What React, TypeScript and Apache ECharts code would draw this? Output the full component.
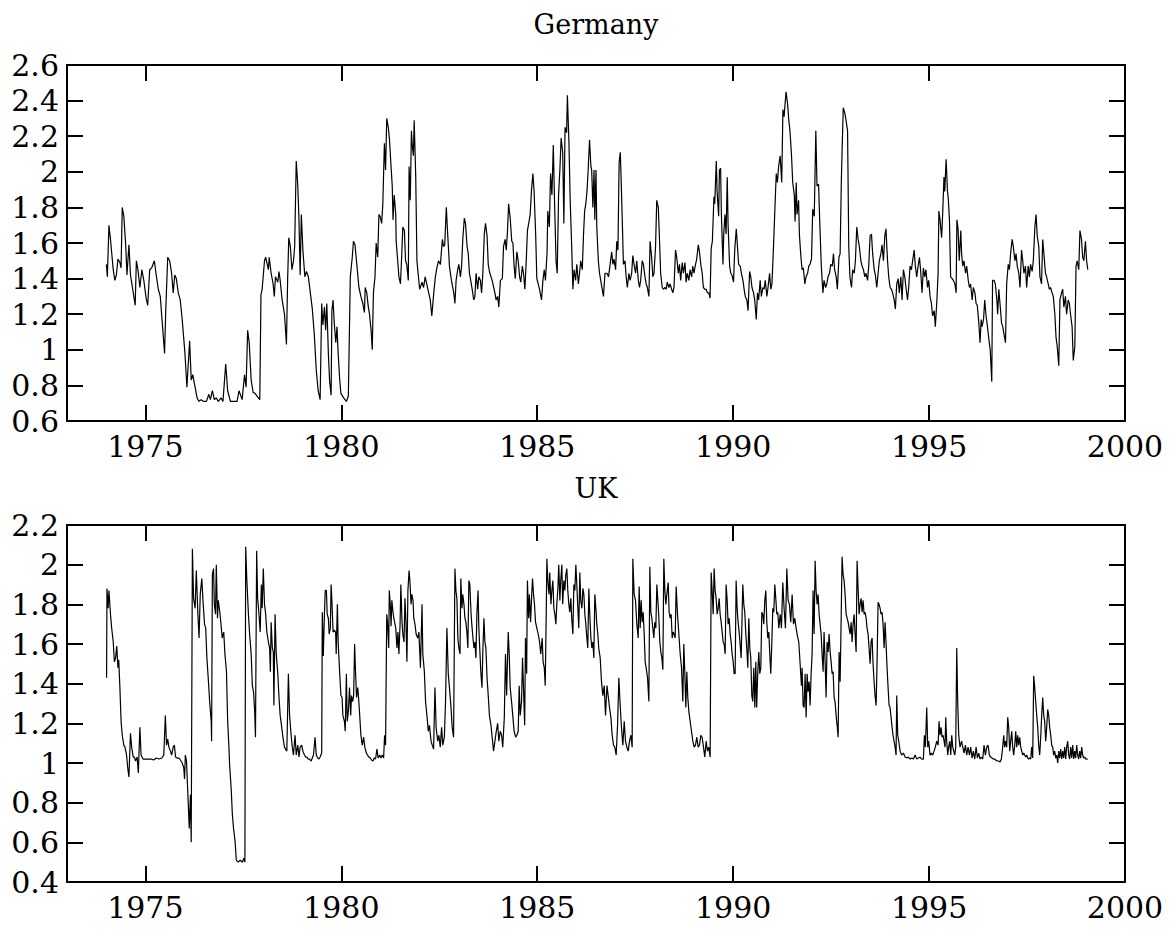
import React, { useEffect, useRef } from "react";
import * as echarts from "echarts";

const panelTitles = ["Germany", "UK"];
const yearTicks = [1975, 1980, 1985, 1990, 1995, 2000];
const germanyRange = { min: 0.6, max: 2.6 };
const ukRange = { min: 0.4, max: 2.2 };

// Germany: [decimal year, value]
const germanyData: [number, number][] = [
  [1974.005,1.48],[1974.03,1.41],[1974.07,1.70],[1974.11,1.62],[1974.13,1.57],[1974.18,1.45],[1974.22,1.39],[1974.26,1.42],
  [1974.30,1.51],[1974.35,1.49],[1974.38,1.46],[1974.41,1.80],[1974.45,1.75],[1974.50,1.58],[1974.53,1.42],[1974.58,1.59],
  [1974.62,1.42],[1974.67,1.35],[1974.74,1.25],[1974.77,1.50],[1974.81,1.45],[1974.86,1.35],[1974.91,1.45],[1974.96,1.39],
  [1975.02,1.29],[1975.06,1.25],[1975.11,1.45],[1975.16,1.46],[1975.23,1.50],[1975.27,1.43],[1975.33,1.34],[1975.38,1.30],
  [1975.49,0.98],[1975.52,1.22],[1975.57,1.52],[1975.62,1.50],[1975.67,1.43],[1975.71,1.32],[1975.75,1.42],[1975.79,1.40],
  [1975.84,1.32],[1975.89,1.28],[1975.94,1.17],[1976.01,0.98],[1976.06,0.79],[1976.13,1.05],[1976.17,0.83],[1976.21,0.86],
  [1976.26,0.80],[1976.32,0.73],[1976.37,0.71],[1976.42,0.72],[1976.49,0.71],[1976.56,0.71],[1976.62,0.75],[1976.66,0.72],
  [1976.71,0.77],[1976.76,0.72],[1976.81,0.73],[1976.86,0.71],[1976.93,0.73],[1976.98,0.71],[1977.05,0.92],[1977.10,0.77],
  [1977.17,0.71],[1977.25,0.71],[1977.34,0.71],[1977.39,0.77],[1977.47,0.72],[1977.53,0.86],[1977.57,0.79],[1977.61,1.11],
  [1977.65,1.04],[1977.70,0.83],[1977.75,0.76],[1977.80,0.755],[1977.85,0.74],[1977.92,0.72],[1977.95,1.31],[1977.98,1.34],
  [1978.04,1.50],[1978.07,1.52],[1978.10,1.49],[1978.14,1.45],[1978.16,1.52],[1978.21,1.43],[1978.26,1.37],[1978.29,1.30],
  [1978.32,1.41],[1978.38,1.38],[1978.41,1.44],[1978.44,1.39],[1978.49,1.28],[1978.55,1.20],[1978.60,1.03],[1978.63,1.39],
  [1978.66,1.63],[1978.70,1.58],[1978.74,1.45],[1978.78,1.50],[1978.81,1.58],[1978.85,2.06],[1978.89,1.92],[1978.92,1.73],
  [1978.95,1.42],[1978.98,1.76],[1979.02,1.56],[1979.07,1.41],[1979.11,1.44],[1979.16,1.41],[1979.21,1.32],[1979.26,1.23],
  [1979.31,1.09],[1979.36,0.89],[1979.41,0.77],[1979.46,0.72],[1979.50,1.26],[1979.53,1.14],[1979.57,1.24],[1979.60,1.11],
  [1979.63,1.26],[1979.67,0.98],[1979.70,0.83],[1979.74,0.745],[1979.76,1.22],[1979.79,1.28],[1979.82,1.15],[1979.86,1.04],
  [1979.89,1.13],[1979.92,0.98],[1979.96,0.83],[1979.99,0.755],[1980.06,0.73],[1980.13,0.71],[1980.18,0.74],[1980.23,1.41],
  [1980.28,1.52],[1980.31,1.61],[1980.35,1.59],[1980.40,1.47],[1980.45,1.35],[1980.50,1.30],[1980.55,1.26],[1980.59,1.21],
  [1980.61,1.35],[1980.65,1.32],[1980.69,1.24],[1980.72,1.20],[1980.76,1.11],[1980.79,1.00],[1980.82,1.32],[1980.86,1.41],
  [1980.89,1.60],[1980.93,1.52],[1980.96,1.76],[1980.99,1.75],[1981.03,1.71],[1981.06,1.82],[1981.10,2.16],[1981.13,2.01],
  [1981.16,2.30],[1981.20,2.25],[1981.23,2.18],[1981.27,2.03],[1981.30,1.92],[1981.32,1.73],[1981.35,1.87],[1981.39,1.76],
  [1981.40,1.61],[1981.44,1.50],[1981.47,1.41],[1981.51,1.37],[1981.54,1.52],[1981.57,1.69],[1981.61,1.67],[1981.64,1.50],
  [1981.67,1.48],[1981.71,1.39],[1981.73,2.03],[1981.76,1.84],[1981.79,2.23],[1981.81,2.15],[1981.84,2.09],[1981.86,2.29],
  [1981.90,1.97],[1981.93,1.50],[1981.96,1.43],[1982.00,1.34],[1982.06,1.38],[1982.10,1.35],[1982.14,1.41],[1982.19,1.36],
  [1982.23,1.32],[1982.27,1.28],[1982.31,1.19],[1982.36,1.32],[1982.40,1.41],[1982.44,1.46],[1982.48,1.50],[1982.53,1.48],
  [1982.55,1.54],[1982.58,1.62],[1982.61,1.58],[1982.64,1.59],[1982.68,1.80],[1982.71,1.67],[1982.76,1.47],[1982.81,1.39],
  [1982.87,1.32],[1982.90,1.26],[1982.93,1.39],[1982.97,1.45],[1983.00,1.48],[1983.04,1.41],[1983.07,1.47],[1983.10,1.62],
  [1983.14,1.74],[1983.17,1.71],[1983.21,1.58],[1983.24,1.54],[1983.27,1.43],[1983.31,1.38],[1983.34,1.34],[1983.38,1.28],
  [1983.41,1.30],[1983.44,1.43],[1983.48,1.34],[1983.51,1.41],[1983.55,1.39],[1983.58,1.32],[1983.61,1.42],[1983.65,1.65],
  [1983.68,1.71],[1983.72,1.64],[1983.75,1.48],[1983.78,1.44],[1983.82,1.41],[1983.85,1.39],[1983.89,1.35],[1983.92,1.32],
  [1983.95,1.28],[1983.99,1.30],[1984.02,1.24],[1984.06,1.39],[1984.11,1.40],[1984.14,1.58],[1984.18,1.62],[1984.21,1.56],
  [1984.24,1.66],[1984.27,1.82],[1984.31,1.74],[1984.35,1.61],[1984.38,1.60],[1984.41,1.47],[1984.44,1.40],[1984.48,1.55],
  [1984.515,1.50],[1984.55,1.41],[1984.58,1.38],[1984.62,1.47],[1984.65,1.43],[1984.685,1.34],[1984.72,1.50],[1984.75,1.67],
  [1984.79,1.72],[1984.82,1.76],[1984.855,1.90],[1984.89,1.99],[1984.92,1.89],[1984.96,1.65],[1984.99,1.40],[1985.025,1.37],
  [1985.06,1.34],[1985.11,1.28],[1985.145,1.39],[1985.18,1.45],[1985.21,1.39],[1985.25,1.54],[1985.27,1.78],[1985.31,1.69],
  [1985.34,1.99],[1985.375,1.87],[1985.41,2.15],[1985.44,1.85],[1985.48,1.50],[1985.51,1.43],[1985.545,1.87],[1985.58,2.02],
  [1985.61,2.19],[1985.65,2.11],[1985.68,1.71],[1985.71,2.25],[1985.75,2.22],[1985.77,2.43],[1985.81,2.16],[1985.84,1.85],
  [1985.88,1.58],[1985.91,1.34],[1985.94,1.45],[1985.98,1.39],[1986.01,1.48],[1986.05,1.37],[1986.08,1.43],[1986.11,1.50],
  [1986.15,1.45],[1986.18,1.64],[1986.21,1.78],[1986.24,1.82],[1986.27,1.89],[1986.30,2.01],[1986.335,2.18],[1986.37,2.03],
  [1986.39,2.01],[1986.42,1.80],[1986.45,2.01],[1986.47,1.73],[1986.50,2.01],[1986.52,1.69],[1986.56,1.50],[1986.59,1.43],
  [1986.62,1.39],[1986.66,1.34],[1986.69,1.30],[1986.73,1.43],[1986.78,1.43],[1986.82,1.41],[1986.86,1.48],[1986.90,1.55],
  [1986.93,1.48],[1986.96,1.51],[1987.00,1.45],[1987.03,1.61],[1987.06,1.56],[1987.09,2.05],[1987.12,2.11],[1987.14,1.97],
  [1987.17,1.73],[1987.20,1.48],[1987.24,1.50],[1987.27,1.41],[1987.30,1.35],[1987.34,1.43],[1987.37,1.39],[1987.41,1.43],
  [1987.44,1.53],[1987.47,1.48],[1987.51,1.43],[1987.54,1.50],[1987.58,1.39],[1987.61,1.35],[1987.64,1.39],[1987.68,1.50],
  [1987.71,1.48],[1987.75,1.41],[1987.78,1.37],[1987.81,1.35],[1987.85,1.30],[1987.88,1.61],[1987.92,1.52],[1987.95,1.41],
  [1987.98,1.43],[1988.02,1.58],[1988.05,1.84],[1988.09,1.80],[1988.12,1.62],[1988.15,1.43],[1988.19,1.35],[1988.22,1.34],
  [1988.26,1.35],[1988.29,1.34],[1988.32,1.38],[1988.36,1.35],[1988.39,1.37],[1988.43,1.34],[1988.46,1.32],[1988.49,1.35],
  [1988.53,1.56],[1988.56,1.52],[1988.60,1.43],[1988.63,1.48],[1988.66,1.39],[1988.70,1.49],[1988.73,1.43],[1988.77,1.49],
  [1988.80,1.38],[1988.83,1.43],[1988.87,1.39],[1988.90,1.45],[1988.94,1.41],[1988.97,1.47],[1989.00,1.43],[1989.04,1.48],
  [1989.07,1.51],[1989.11,1.59],[1989.14,1.55],[1989.18,1.47],[1989.21,1.43],[1989.24,1.35],[1989.28,1.34],[1989.31,1.34],
  [1989.345,1.32],[1989.38,1.32],[1989.41,1.29],[1989.44,1.57],[1989.47,1.61],[1989.51,1.86],[1989.53,1.82],[1989.57,2.06],
  [1989.59,1.89],[1989.63,1.75],[1989.65,2.01],[1989.68,2.02],[1989.70,1.76],[1989.74,1.48],[1989.76,1.65],[1989.79,1.76],
  [1989.82,1.65],[1989.85,1.97],[1989.87,1.71],[1989.91,1.47],[1989.94,1.43],[1989.97,1.42],[1990.01,1.38],[1990.04,1.56],
  [1990.08,1.68],[1990.11,1.58],[1990.14,1.48],[1990.18,1.47],[1990.21,1.43],[1990.25,1.39],[1990.28,1.34],[1990.31,1.30],
  [1990.35,1.28],[1990.38,1.22],[1990.42,1.44],[1990.45,1.41],[1990.48,1.35],[1990.52,1.32],[1990.55,1.28],[1990.59,1.17],
  [1990.62,1.32],[1990.65,1.28],[1990.69,1.39],[1990.72,1.30],[1990.76,1.35],[1990.79,1.34],[1990.82,1.39],[1990.86,1.30],
  [1990.89,1.35],[1990.93,1.43],[1990.96,1.34],[1990.99,1.37],[1991.03,1.58],[1991.06,1.76],[1991.10,1.99],[1991.13,1.94],
  [1991.16,2.03],[1991.20,2.09],[1991.24,1.94],[1991.27,2.35],[1991.30,2.31],[1991.35,2.45],[1991.39,2.38],[1991.42,2.29],
  [1991.45,2.23],[1991.49,2.09],[1991.52,1.94],[1991.56,1.87],[1991.58,1.72],[1991.61,1.94],[1991.63,1.76],[1991.67,1.84],
  [1991.69,1.65],[1991.73,1.52],[1991.76,1.45],[1991.79,1.46],[1991.83,1.37],[1991.86,1.41],[1991.90,1.43],[1991.93,1.47],
  [1991.96,1.48],[1992.00,1.51],[1992.03,1.79],[1992.07,1.75],[1992.11,2.23],[1992.14,1.92],[1992.18,1.93],[1992.21,1.72],
  [1992.25,1.47],[1992.29,1.32],[1992.32,1.39],[1992.36,1.35],[1992.39,1.37],[1992.42,1.41],[1992.46,1.43],[1992.49,1.48],
  [1992.53,1.47],[1992.56,1.54],[1992.59,1.45],[1992.63,1.41],[1992.66,1.34],[1992.70,1.52],[1992.73,1.54],[1992.76,1.94],
  [1992.79,2.20],[1992.81,2.36],[1992.85,2.33],[1992.88,2.29],[1992.92,2.23],[1992.95,1.58],[1992.98,1.41],[1993.02,1.35],
  [1993.05,1.45],[1993.09,1.43],[1993.12,1.50],[1993.155,1.69],[1993.19,1.62],[1993.22,1.58],[1993.26,1.50],[1993.29,1.47],
  [1993.325,1.45],[1993.36,1.41],[1993.39,1.43],[1993.43,1.39],[1993.46,1.47],[1993.495,1.64],[1993.53,1.65],[1993.56,1.54],
  [1993.60,1.45],[1993.63,1.42],[1993.665,1.35],[1993.70,1.43],[1993.73,1.50],[1993.77,1.54],[1993.80,1.59],[1993.835,1.50],
  [1993.87,1.64],[1993.90,1.68],[1993.94,1.50],[1993.97,1.41],[1994.005,1.35],[1994.04,1.34],[1994.07,1.32],[1994.11,1.28],
  [1994.14,1.23],[1994.175,1.37],[1994.21,1.40],[1994.24,1.32],[1994.28,1.41],[1994.31,1.28],[1994.345,1.45],[1994.38,1.41],
  [1994.41,1.35],[1994.45,1.28],[1994.48,1.35],[1994.515,1.47],[1994.55,1.45],[1994.58,1.50],[1994.62,1.56],[1994.65,1.47],
  [1994.685,1.41],[1994.72,1.47],[1994.755,1.52],[1994.79,1.43],[1994.82,1.32],[1994.855,1.46],[1994.89,1.41],[1994.92,1.45],
  [1994.96,1.35],[1994.99,1.39],[1995.025,1.30],[1995.06,1.26],[1995.09,1.19],[1995.13,1.22],[1995.16,1.13],[1995.20,1.28],
  [1995.23,1.43],[1995.25,1.78],[1995.28,1.73],[1995.32,1.63],[1995.35,1.78],[1995.38,1.97],[1995.40,1.89],[1995.435,2.07],
  [1995.47,1.89],[1995.49,1.85],[1995.52,1.73],[1995.55,1.41],[1995.59,1.40],[1995.62,1.39],[1995.66,1.37],[1995.69,1.32],
  [1995.71,1.73],[1995.74,1.68],[1995.77,1.50],[1995.81,1.67],[1995.83,1.54],[1995.86,1.47],[1995.89,1.50],[1995.93,1.43],
  [1995.96,1.47],[1996.00,1.39],[1996.03,1.35],[1996.06,1.37],[1996.10,1.28],[1996.13,1.35],[1996.17,1.32],[1996.20,1.26],
  [1996.23,1.25],[1996.27,1.15],[1996.30,1.04],[1996.33,1.17],[1996.35,1.13],[1996.39,1.17],[1996.42,1.28],[1996.45,1.20],
  [1996.49,1.13],[1996.52,1.07],[1996.56,1.00],[1996.60,0.82],[1996.62,1.39],[1996.66,1.39],[1996.69,1.37],[1996.73,1.28],
  [1996.75,1.20],[1996.78,1.34],[1996.81,1.26],[1996.85,1.15],[1996.88,1.13],[1996.91,1.09],[1996.95,1.04],[1996.98,1.37],
  [1997.02,1.48],[1997.05,1.45],[1997.08,1.54],[1997.12,1.62],[1997.15,1.58],[1997.19,1.50],[1997.22,1.54],[1997.25,1.47],
  [1997.29,1.43],[1997.32,1.35],[1997.36,1.56],[1997.39,1.50],[1997.42,1.43],[1997.46,1.47],[1997.49,1.35],[1997.53,1.47],
  [1997.56,1.41],[1997.59,1.48],[1997.63,1.44],[1997.66,1.50],[1997.70,1.69],[1997.73,1.76],[1997.76,1.64],[1997.80,1.58],
  [1997.83,1.41],[1997.87,1.37],[1997.90,1.62],[1997.93,1.54],[1997.97,1.43],[1998.00,1.41],[1998.04,1.37],[1998.07,1.34],
  [1998.10,1.35],[1998.14,1.32],[1998.17,1.30],[1998.21,1.20],[1998.24,1.07],[1998.27,1.02],[1998.31,0.91],[1998.34,1.28],
  [1998.38,1.32],[1998.41,1.34],[1998.44,1.24],[1998.48,1.30],[1998.51,1.20],[1998.55,1.28],[1998.58,1.26],[1998.61,1.20],
  [1998.65,1.13],[1998.68,0.94],[1998.72,1.02],[1998.75,1.47],[1998.78,1.50],[1998.82,1.45],[1998.85,1.67],[1998.89,1.62],
  [1998.92,1.52],[1998.95,1.50],[1998.99,1.61],[1999.02,1.50],[1999.05,1.45]
];

// UK: [decimal year, value]
const ukData: [number, number][] = [
  [1974.01,1.43],[1974.02,1.88],[1974.05,1.78],[1974.07,1.87],[1974.11,1.75],[1974.14,1.68],[1974.18,1.61],[1974.21,1.51],
  [1974.24,1.53],[1974.27,1.59],[1974.30,1.48],[1974.32,1.52],[1974.35,1.38],[1974.38,1.21],[1974.41,1.14],[1974.45,1.09],
  [1974.48,1.08],[1974.52,1.04],[1974.55,0.975],[1974.58,0.93],[1974.62,1.15],[1974.65,1.08],[1974.69,1.03],[1974.72,1.03],
  [1974.75,1.01],[1974.79,1.03],[1974.82,0.95],[1974.86,1.18],[1974.89,1.04],[1974.94,1.02],[1975.01,1.02],[1975.08,1.02],
  [1975.15,1.02],[1975.21,1.015],[1975.28,1.025],[1975.35,1.02],[1975.42,1.025],[1975.47,1.04],[1975.51,1.24],[1975.54,1.09],
  [1975.57,1.12],[1975.60,1.08],[1975.64,1.06],[1975.67,1.04],[1975.71,1.08],[1975.74,1.09],[1975.77,1.03],[1975.81,1.025],
  [1975.86,1.025],[1975.91,1.01],[1975.94,1.00],[1975.98,0.975],[1976.00,0.92],[1976.02,1.04],[1976.05,1.01],[1976.07,0.91],
  [1976.10,0.77],[1976.12,0.67],[1976.15,0.84],[1976.17,0.60],[1976.20,2.08],[1976.23,1.83],[1976.27,1.78],[1976.30,1.97],
  [1976.34,1.75],[1976.37,1.63],[1976.40,1.85],[1976.44,1.93],[1976.47,1.82],[1976.51,1.70],[1976.54,1.68],[1976.57,1.53],
  [1976.61,1.41],[1976.64,1.31],[1976.68,1.21],[1976.69,1.11],[1976.71,1.95],[1976.74,1.98],[1976.76,1.80],[1976.79,1.75],
  [1976.81,2.00],[1976.84,1.73],[1976.86,1.82],[1976.90,1.76],[1976.93,1.70],[1976.96,1.63],[1977.00,1.66],[1977.03,1.55],
  [1977.07,1.46],[1977.10,1.21],[1977.13,1.09],[1977.15,0.99],[1977.19,0.87],[1977.22,0.74],[1977.25,0.67],[1977.29,0.605],
  [1977.32,0.51],[1977.37,0.50],[1977.42,0.51],[1977.48,0.50],[1977.51,0.52],[1977.54,0.50],[1977.56,2.09],[1977.59,1.92],
  [1977.63,1.75],[1977.66,1.65],[1977.70,1.55],[1977.73,1.39],[1977.76,1.36],[1977.79,1.26],[1977.81,1.13],[1977.84,2.07],
  [1977.865,1.83],[1977.90,1.75],[1977.93,1.66],[1977.96,1.90],[1977.98,1.78],[1978.01,1.98],[1978.04,1.80],[1978.07,1.75],
  [1978.10,1.66],[1978.14,1.61],[1978.17,1.58],[1978.19,1.46],[1978.21,1.71],[1978.24,1.58],[1978.265,1.56],[1978.28,1.29],
  [1978.31,1.75],[1978.34,1.55],[1978.38,1.45],[1978.41,1.33],[1978.44,1.24],[1978.48,1.18],[1978.51,1.13],[1978.55,1.08],
  [1978.58,1.07],[1978.61,1.06],[1978.65,1.45],[1978.68,1.24],[1978.72,1.14],[1978.75,1.08],[1978.78,1.04],[1978.82,1.14],
  [1978.85,1.04],[1978.89,1.09],[1978.92,1.03],[1978.95,1.08],[1978.99,1.09],[1979.02,1.06],[1979.06,1.04],[1979.09,1.03],
  [1979.12,1.03],[1979.16,1.02],[1979.19,1.02],[1979.23,1.01],[1979.26,1.025],[1979.29,1.04],[1979.33,1.13],[1979.36,1.04],
  [1979.40,1.025],[1979.43,1.02],[1979.46,1.03],[1979.50,1.05],[1979.515,1.76],[1979.54,1.54],[1979.57,1.75],[1979.59,1.87],
  [1979.62,1.87],[1979.64,1.75],[1979.67,1.73],[1979.69,1.65],[1979.72,1.68],[1979.74,1.90],[1979.76,1.82],[1979.79,1.66],
  [1979.82,1.67],[1979.855,1.66],[1979.87,1.55],[1979.90,1.80],[1979.92,1.61],[1979.96,1.45],[1979.99,1.34],[1980.02,1.33],
  [1980.04,1.24],[1980.08,1.21],[1980.10,1.16],[1980.13,1.45],[1980.15,1.21],[1980.18,1.26],[1980.21,1.38],[1980.24,1.24],
  [1980.26,1.34],[1980.29,1.31],[1980.315,1.34],[1980.34,1.60],[1980.365,1.45],[1980.39,1.33],[1980.42,1.38],[1980.44,1.33],
  [1980.47,1.24],[1980.50,1.14],[1980.535,1.09],[1980.57,1.13],[1980.60,1.08],[1980.64,1.05],[1980.67,1.04],[1980.705,1.03],
  [1980.74,1.025],[1980.77,1.015],[1980.81,1.01],[1980.84,1.025],[1980.875,1.02],[1980.91,1.07],[1980.94,1.025],[1980.98,1.04],
  [1981.01,1.025],[1981.045,1.04],[1981.08,1.025],[1981.105,1.14],[1981.13,1.09],[1981.16,1.75],[1981.18,1.71],[1981.21,1.58],
  [1981.225,1.87],[1981.25,1.80],[1981.27,1.69],[1981.29,1.82],[1981.32,1.76],[1981.34,1.73],[1981.37,1.70],[1981.39,1.68],
  [1981.42,1.58],[1981.445,1.66],[1981.47,1.55],[1981.50,1.70],[1981.52,1.90],[1981.55,1.71],[1981.57,1.65],[1981.60,1.61],
  [1981.625,1.83],[1981.65,1.71],[1981.675,1.51],[1981.70,1.87],[1981.73,1.97],[1981.75,1.92],[1981.78,1.80],[1981.80,1.85],
  [1981.83,1.82],[1981.85,1.73],[1981.88,1.70],[1981.91,1.65],[1981.95,1.63],[1981.98,1.66],[1982.02,1.48],[1982.06,1.80],
  [1982.08,1.55],[1982.12,1.46],[1982.15,1.31],[1982.19,1.23],[1982.22,1.16],[1982.25,1.19],[1982.29,1.11],[1982.32,1.09],
  [1982.355,1.07],[1982.39,1.38],[1982.42,1.18],[1982.46,1.11],[1982.49,1.14],[1982.525,1.08],[1982.56,1.18],[1982.59,1.09],
  [1982.63,1.13],[1982.66,1.31],[1982.695,1.68],[1982.73,1.45],[1982.76,1.38],[1982.80,1.28],[1982.83,1.18],[1982.865,1.13],
  [1982.90,1.98],[1982.925,1.87],[1982.95,1.83],[1982.975,1.63],[1983.00,1.58],[1983.03,1.55],[1983.05,1.93],[1983.08,1.78],
  [1983.10,1.85],[1983.13,1.80],[1983.155,1.73],[1983.18,1.71],[1983.205,1.66],[1983.23,1.58],[1983.256,1.92],[1983.28,1.90],
  [1983.31,1.76],[1983.33,1.70],[1983.36,1.63],[1983.385,1.58],[1983.41,1.61],[1983.435,1.53],[1983.46,1.75],[1983.49,1.87],
  [1983.51,1.68],[1983.54,1.55],[1983.56,1.46],[1983.59,1.38],[1983.61,1.55],[1983.64,1.73],[1983.665,1.61],[1983.69,1.58],
  [1983.72,1.43],[1983.75,1.34],[1983.78,1.24],[1983.82,1.19],[1983.85,1.13],[1983.885,1.06],[1983.92,1.11],[1983.955,1.16],
  [1983.99,1.20],[1984.02,1.11],[1984.056,1.16],[1984.09,1.14],[1984.12,1.08],[1984.16,1.23],[1984.19,1.55],[1984.22,1.34],
  [1984.24,1.51],[1984.26,1.66],[1984.285,1.55],[1984.31,1.38],[1984.345,1.31],[1984.38,1.23],[1984.41,1.16],[1984.45,1.13],
  [1984.48,1.14],[1984.515,1.16],[1984.54,1.39],[1984.566,1.24],[1984.60,1.31],[1984.625,1.53],[1984.65,1.38],[1984.68,1.19],
  [1984.70,1.63],[1984.73,1.45],[1984.75,1.92],[1984.78,1.73],[1984.80,1.85],[1984.83,1.71],[1984.855,1.83],[1984.88,1.93],
  [1984.906,1.85],[1984.93,1.80],[1984.957,1.71],[1984.99,1.68],[1985.025,1.65],[1985.06,1.61],[1985.09,1.55],[1985.127,1.63],
  [1985.15,1.51],[1985.18,1.48],[1985.204,1.39],[1985.23,1.75],[1985.246,2.03],[1985.27,1.92],[1985.30,1.85],[1985.32,1.96],
  [1985.35,1.80],[1985.374,1.87],[1985.40,1.92],[1985.425,1.78],[1985.45,1.75],[1985.476,1.70],[1985.50,1.80],[1985.527,1.88],
  [1985.55,2.00],[1985.578,1.82],[1985.60,1.92],[1985.629,2.00],[1985.65,1.80],[1985.68,1.92],[1985.705,1.87],[1985.73,1.95],
  [1985.756,1.98],[1985.78,1.87],[1985.807,1.80],[1985.83,1.76],[1985.858,1.83],[1985.88,1.73],[1985.91,1.65],[1985.935,1.90],
  [1985.96,1.87],[1985.986,2.00],[1986.01,1.90],[1986.037,1.78],[1986.06,1.68],[1986.088,1.96],[1986.11,1.82],[1986.14,1.78],
  [1986.165,1.88],[1986.19,1.85],[1986.216,1.75],[1986.24,1.70],[1986.267,1.63],[1986.29,1.58],[1986.318,1.88],[1986.34,1.75],
  [1986.37,1.63],[1986.394,1.58],[1986.42,1.61],[1986.445,1.53],[1986.47,1.85],[1986.496,1.78],[1986.52,1.70],[1986.547,1.65],
  [1986.57,1.58],[1986.607,1.53],[1986.64,1.41],[1986.675,1.34],[1986.71,1.39],[1986.743,1.24],[1986.78,1.39],[1986.81,1.34],
  [1986.845,1.28],[1986.88,1.23],[1986.913,1.14],[1986.947,1.09],[1986.98,1.08],[1987.015,1.04],[1987.05,1.19],[1987.083,1.43],
  [1987.117,1.29],[1987.15,1.18],[1987.185,1.09],[1987.22,1.21],[1987.253,1.11],[1987.287,1.08],[1987.32,1.06],[1987.355,1.11],
  [1987.39,1.14],[1987.423,1.08],[1987.44,2.03],[1987.474,1.85],[1987.508,1.82],[1987.542,1.70],[1987.576,1.63],[1987.602,1.89],
  [1987.627,1.68],[1987.653,1.82],[1987.678,1.71],[1987.704,1.76],[1987.73,1.65],[1987.755,1.51],[1987.78,1.48],[1987.815,1.43],
  [1987.849,1.31],[1987.874,1.99],[1987.90,1.76],[1987.925,1.73],[1987.95,1.68],[1987.976,1.63],[1988.00,1.71],[1988.027,1.68],
  [1988.053,1.90],[1988.078,1.82],[1988.10,1.75],[1988.129,1.61],[1988.155,1.56],[1988.18,1.53],[1988.206,1.47],[1988.231,2.03],
  [1988.257,1.87],[1988.282,1.80],[1988.308,1.85],[1988.342,1.91],[1988.367,1.76],[1988.393,1.73],[1988.418,1.75],[1988.444,1.63],
  [1988.469,1.66],[1988.495,1.65],[1988.52,1.63],[1988.546,1.89],[1988.58,1.75],[1988.614,1.65],[1988.648,1.55],[1988.682,1.48],
  [1988.716,1.31],[1988.741,1.60],[1988.767,1.45],[1988.792,1.28],[1988.818,1.46],[1988.843,1.33],[1988.869,1.26],[1988.903,1.21],
  [1988.937,1.16],[1988.971,1.11],[1989.005,1.08],[1989.039,1.09],[1989.073,1.13],[1989.107,1.08],[1989.141,1.09],[1989.175,1.14],
  [1989.209,1.13],[1989.243,1.08],[1989.277,1.03],[1989.311,1.11],[1989.345,1.06],[1989.379,1.08],[1989.413,1.03],[1989.439,1.96],
  [1989.464,1.87],[1989.49,1.75],[1989.515,1.98],[1989.54,1.87],[1989.566,1.83],[1989.592,1.75],[1989.617,1.78],[1989.643,1.83],
  [1989.668,1.75],[1989.694,1.71],[1989.719,1.66],[1989.745,1.61],[1989.77,1.60],[1989.796,1.55],[1989.821,1.90],[1989.847,1.82],
  [1989.872,1.70],[1989.898,1.73],[1989.923,1.65],[1989.949,1.61],[1989.974,1.55],[1990.00,1.51],[1990.025,1.45],[1990.051,1.45],
  [1990.076,1.92],[1990.102,1.78],[1990.127,1.71],[1990.153,1.66],[1990.178,1.60],[1990.204,1.53],[1990.229,1.75],[1990.246,1.90],
  [1990.272,1.80],[1990.297,1.76],[1990.323,1.65],[1990.348,1.58],[1990.374,1.48],[1990.40,1.73],[1990.425,1.58],[1990.45,1.53],
  [1990.476,1.34],[1990.50,1.31],[1990.527,1.48],[1990.553,1.28],[1990.578,1.51],[1990.60,1.28],[1990.629,1.46],[1990.655,1.56],
  [1990.68,1.45],[1990.706,1.48],[1990.731,1.76],[1990.757,1.75],[1990.782,1.70],[1990.808,1.82],[1990.833,1.87],[1990.859,1.71],
  [1990.884,1.63],[1990.91,1.66],[1990.935,1.55],[1990.96,1.45],[1990.986,1.60],[1991.012,1.78],[1991.037,1.76],[1991.063,1.90],
  [1991.088,1.83],[1991.114,1.75],[1991.139,1.76],[1991.165,1.68],[1991.20,1.75],[1991.233,1.68],[1991.267,1.91],[1991.30,1.78],
  [1991.335,1.68],[1991.37,1.98],[1991.403,1.82],[1991.437,1.80],[1991.47,1.71],[1991.505,1.85],[1991.54,1.70],[1991.573,1.73],
  [1991.607,1.68],[1991.641,1.64],[1991.675,1.61],[1991.709,1.50],[1991.743,1.39],[1991.76,1.48],[1991.786,1.29],[1991.81,1.28],
  [1991.837,1.45],[1991.862,1.23],[1991.888,1.45],[1991.913,1.36],[1991.939,1.41],[1991.964,1.29],[1991.99,1.45],[1992.015,1.55],
  [1992.04,1.87],[1992.066,1.65],[1992.092,2.02],[1992.117,1.87],[1992.143,1.80],[1992.168,1.85],[1992.194,1.75],[1992.219,1.70],
  [1992.245,1.65],[1992.27,1.55],[1992.296,1.46],[1992.32,1.66],[1992.347,1.51],[1992.372,1.33],[1992.398,1.61],[1992.424,1.56],
  [1992.449,1.65],[1992.475,1.56],[1992.50,1.51],[1992.526,1.45],[1992.551,1.46],[1992.577,1.33],[1992.60,1.31],[1992.628,1.24],
  [1992.653,1.19],[1992.679,1.13],[1992.704,1.56],[1992.73,1.41],[1992.755,1.71],[1992.78,2.04],[1992.806,1.95],[1992.832,1.92],
  [1992.857,1.85],[1992.883,1.75],[1992.908,1.73],[1992.934,1.71],[1992.959,1.68],[1992.985,1.65],[1993.01,1.71],[1993.036,1.61],
  [1993.061,1.70],[1993.087,1.75],[1993.112,1.65],[1993.138,1.56],[1993.163,2.02],[1993.189,1.88],[1993.214,1.75],[1993.24,1.80],
  [1993.265,1.83],[1993.291,1.76],[1993.316,1.82],[1993.342,1.75],[1993.367,1.76],[1993.393,1.73],[1993.418,1.68],[1993.444,1.65],
  [1993.469,1.58],[1993.495,1.50],[1993.52,1.61],[1993.546,1.63],[1993.571,1.50],[1993.597,1.41],[1993.622,1.34],[1993.648,1.29],
  [1993.673,1.51],[1993.699,1.81],[1993.724,1.80],[1993.75,1.78],[1993.775,1.75],[1993.801,1.76],[1993.826,1.70],[1993.852,1.58],
  [1993.877,1.71],[1993.903,1.60],[1993.928,1.48],[1993.954,1.38],[1993.98,1.29],[1994.005,1.28],[1994.03,1.23],[1994.056,1.18],
  [1994.08,1.14],[1994.107,1.11],[1994.133,1.08],[1994.158,1.04],[1994.175,1.34],[1994.20,1.14],[1994.226,1.11],[1994.26,1.06],
  [1994.30,1.04],[1994.345,1.05],[1994.388,1.03],[1994.43,1.025],[1994.473,1.03],[1994.515,1.02],[1994.558,1.025],[1994.60,1.02],
  [1994.643,1.04],[1994.685,1.02],[1994.728,1.025],[1994.77,1.03],[1994.813,1.02],[1994.855,1.02],[1994.88,1.14],[1994.906,1.08],
  [1994.94,1.28],[1994.966,1.08],[1994.99,1.11],[1995.025,1.04],[1995.06,1.05],[1995.093,1.04],[1995.127,1.06],[1995.16,1.08],
  [1995.195,1.11],[1995.23,1.09],[1995.255,1.21],[1995.28,1.14],[1995.306,1.18],[1995.332,1.13],[1995.357,1.14],[1995.383,1.11],
  [1995.408,1.08],[1995.425,1.23],[1995.45,1.11],[1995.476,1.04],[1995.50,1.08],[1995.527,1.11],[1995.553,1.04],[1995.578,1.14],
  [1995.604,1.08],[1995.63,1.06],[1995.655,1.04],[1995.68,1.08],[1995.706,1.58],[1995.73,1.31],[1995.757,1.14],[1995.79,1.08],
  [1995.83,1.11],[1995.86,1.08],[1995.893,1.05],[1995.927,1.09],[1995.961,1.04],[1995.995,1.08],[1996.03,1.04],[1996.063,1.08],
  [1996.097,1.025],[1996.131,1.06],[1996.165,1.02],[1996.20,1.08],[1996.233,1.025],[1996.267,1.05],[1996.301,1.02],[1996.335,1.03],
  [1996.369,1.02],[1996.403,1.09],[1996.437,1.04],[1996.471,1.08],[1996.505,1.09],[1996.539,1.04],[1996.573,1.03],[1996.607,1.025],
  [1996.641,1.02],[1996.675,1.02],[1996.709,1.013],[1996.743,1.01],[1996.777,1.01],[1996.811,1.005],[1996.845,1.02],[1996.879,1.08],
  [1996.905,1.14],[1996.93,1.08],[1996.956,1.11],[1996.981,1.08],[1997.007,1.23],[1997.032,1.18],[1997.058,1.06],[1997.083,1.11],
  [1997.109,1.16],[1997.134,1.08],[1997.16,1.04],[1997.186,1.09],[1997.211,1.16],[1997.237,1.08],[1997.262,1.14],[1997.288,1.09],
  [1997.313,1.13],[1997.339,1.08],[1997.364,1.06],[1997.39,1.04],[1997.415,1.05],[1997.441,1.04],[1997.466,1.03],[1997.492,1.04],
  [1997.517,1.025],[1997.543,1.02],[1997.568,1.025],[1997.594,1.02],[1997.619,1.08],[1997.645,1.025],[1997.67,1.44],[1997.696,1.38],
  [1997.721,1.31],[1997.747,1.24],[1997.772,1.18],[1997.798,1.09],[1997.823,1.04],[1997.849,1.13],[1997.874,1.24],[1997.90,1.33],
  [1997.925,1.24],[1997.951,1.21],[1997.976,1.11],[1998.002,1.18],[1998.027,1.27],[1998.053,1.24],[1998.078,1.18],[1998.104,1.14],
  [1998.13,1.09],[1998.155,1.08],[1998.18,1.04],[1998.206,1.06],[1998.232,1.025],[1998.257,1.04],[1998.283,1.00],[1998.308,1.06],
  [1998.334,1.025],[1998.359,1.07],[1998.385,1.02],[1998.41,1.06],[1998.436,1.025],[1998.461,1.08],[1998.487,1.02],[1998.512,1.08],
  [1998.538,1.11],[1998.563,1.04],[1998.589,1.02],[1998.614,1.08],[1998.64,1.025],[1998.665,1.09],[1998.691,1.02],[1998.716,1.06],
  [1998.742,1.025],[1998.767,1.09],[1998.793,1.04],[1998.818,1.02],[1998.844,1.06],[1998.869,1.025],[1998.895,1.08],[1998.92,1.04],
  [1998.946,1.025],[1998.971,1.03],[1998.997,1.02],[1999.022,1.02],[1999.048,1.02]
];

const FONT = "DejaVu Serif";

export default function App() {
  const ref = useRef<HTMLDivElement>(null);

  useEffect(() => {
    document.body.style.margin = "0";
    const chart = echarts.init(ref.current as HTMLDivElement, null, { renderer: "svg" });

    const labelStyle = { fontFamily: FONT, fontSize: 30, color: "#000" };
    const lineStyle = { color: "#000", width: 2 };

    const xAxis = (gridIndex: number, position: "top" | "bottom", showLabel: boolean) => ({
      type: "value",
      gridIndex,
      position,
      min: 1973,
      max: 2000,
      axisLine: { show: true, onZero: false, lineStyle },
      axisTick: { show: true, inside: true, length: 16, lineStyle, customValues: yearTicks },
      axisLabel: {
        show: showLabel,
        customValues: yearTicks,
        margin: 10,
        formatter: (v: number) => String(Math.round(v)),
        ...labelStyle,
      },
      splitLine: { show: false },
    });

    const yAxis = (
      gridIndex: number,
      position: "left" | "right",
      range: { min: number; max: number },
      showLabel: boolean
    ) => ({
      type: "value",
      gridIndex,
      position,
      min: range.min,
      max: range.max,
      interval: 0.2,
      axisLine: { show: true, onZero: false, lineStyle },
      axisTick: { show: true, inside: true, length: 16, lineStyle },
      axisLabel: {
        show: showLabel,
        margin: 8,
        formatter: (v: number) => String(Math.round(v * 10) / 10),
        ...labelStyle,
      },
      splitLine: { show: false },
    });

    const titleStyle = { fontFamily: FONT, fontSize: 27, fill: "#000" };

    chart.setOption({
      animation: false,
      backgroundColor: "#fff",
      grid: [
        { left: 67, right: 46, top: 65, height: 356 },
        { left: 67, right: 46, top: 525, height: 357 },
      ],
      xAxis: [
        xAxis(0, "bottom", true),
        xAxis(0, "top", false),
        xAxis(1, "bottom", true),
        xAxis(1, "top", false),
      ],
      yAxis: [
        yAxis(0, "left", germanyRange, true),
        yAxis(0, "right", germanyRange, false),
        yAxis(1, "left", ukRange, true),
        yAxis(1, "right", ukRange, false),
      ],
      graphic: [
        {
          type: "text",
          x: 596,
          y: 24,
          style: { text: panelTitles[0], ...titleStyle, align: "center", verticalAlign: "middle", textAlign: "center", textVerticalAlign: "middle", font: `27px "${FONT}"` },
        },
        {
          type: "text",
          x: 596,
          y: 488,
          style: { text: panelTitles[1], ...titleStyle, align: "center", verticalAlign: "middle", textAlign: "center", textVerticalAlign: "middle", font: `27px "${FONT}"` },
        },
      ],
      series: [
        {
          name: panelTitles[0],
          type: "line",
          xAxisIndex: 0,
          yAxisIndex: 0,
          data: germanyData,
          showSymbol: false,
          symbol: "none",
          lineStyle: { color: "#000", width: 1.2 },
          silent: true,
        },
        {
          name: panelTitles[1],
          type: "line",
          xAxisIndex: 2,
          yAxisIndex: 2,
          data: ukData,
          showSymbol: false,
          symbol: "none",
          lineStyle: { color: "#000", width: 1.2 },
          silent: true,
        },
      ],
    });

    return () => {
      chart.dispose();
    };
  }, []);

  return <div ref={ref} style={{ width: 1171, height: 929 }} />;
}
